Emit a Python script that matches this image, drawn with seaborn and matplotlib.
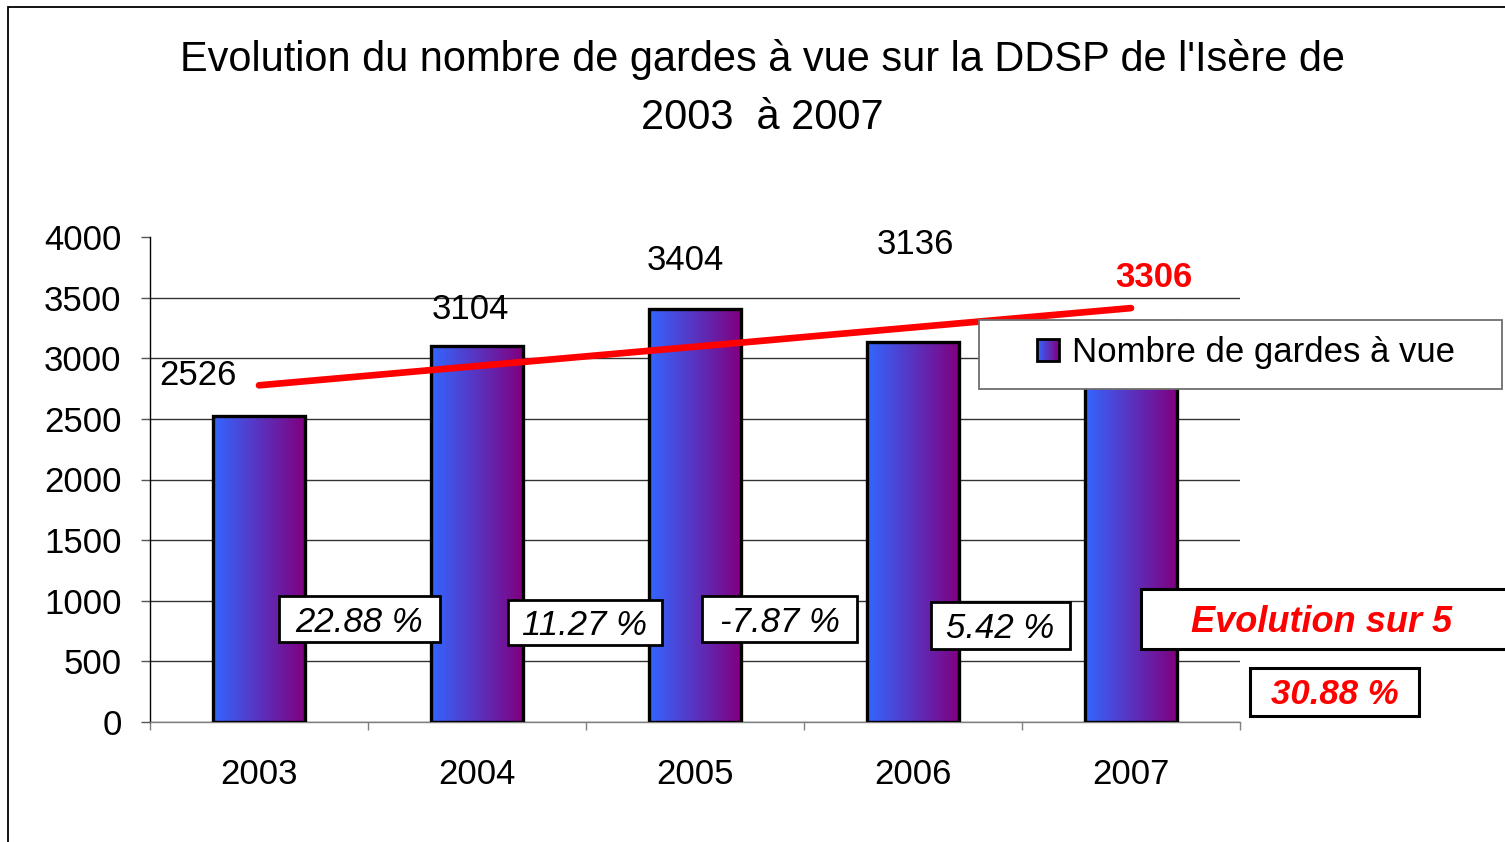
import numpy as np
import pandas as pd
import matplotlib
matplotlib.use('Agg')
import matplotlib.pyplot as plt
import seaborn as sns
from matplotlib.patches import Rectangle, Patch
from matplotlib.colors import LinearSegmentedColormap
from matplotlib.legend_handler import HandlerBase
from matplotlib.ticker import FixedLocator

# ---------------- data ----------------
years = ['2003', '2004', '2005', '2006', '2007']
counts = [2526, 3104, 3404, 3136, 3306]
yearly_change = ['22.88 %', '11.27 %', '-7.87 %', '5.42 %']
total_change = '30.88 %'
total_caption = 'Evolution sur 5'
series_name = 'Nombre de gardes à vue'
y_ticks = [0, 500, 1000, 1500, 2000, 2500, 3000, 3500, 4000]
title_lines = ["Evolution du nombre de gardes à vue sur la DDSP de l'Isère de",
               "2003  à 2007"]

# ---------------- layout (pixels) ----------------
W, H = 1505, 842
value_label_offsets = [(-61, 42), (-7, 38), (-10, 51), (2, 99), (23, 46)]
change_boxes = [(279, 596, 440, 642), (508, 600, 662, 645),
                (702, 596, 857, 642), (931, 602, 1070, 649)]
caption_box = (1141, 589, 1540, 649)
caption_text_x = 1322
total_box = (1250, 668, 1419, 716)
legend_box = (979, 320, 1502, 389)

sns.set_style('white')
plt.rcParams['font.family'] = ['Liberation Sans', 'DejaVu Sans']
plt.rcParams['text.color'] = 'black'
plt.rcParams['xtick.labelcolor'] = 'black'
plt.rcParams['ytick.labelcolor'] = 'black'
plt.rcParams['axes.labelcolor'] = 'black'

fig = plt.figure(figsize=(W / 100, H / 100), dpi=100)
fig.patch.set_facecolor('white')


def fx(px):
    return px / W


def fy(py):
    return 1 - py / H


ax = fig.add_axes([fx(150), fy(722), fx(1240) - fx(150), fy(237) - fy(722)])

df = pd.DataFrame({'Année': years, 'Gardes': counts})
sns.barplot(data=df, x='Année', y='Gardes', ax=ax, width=0.42, color='#5a3fc0',
            edgecolor='black', linewidth=2.4, zorder=3)

cmap = LinearSegmentedColormap.from_list('bar_grad', ['#3366FF', '#800080'])
grad = np.linspace(0, 1, 256).reshape(1, -1)
for p in list(ax.patches):
    p.set_facecolor('none')
    p.set_zorder(3)
    x0, y0, w, h = p.get_x(), p.get_y(), p.get_width(), p.get_height()
    ax.imshow(grad, cmap=cmap, extent=[x0, x0 + w, y0, y0 + h], aspect='auto',
              zorder=2.5, interpolation='bilinear')

# linear trend line
sns.regplot(x=np.arange(len(counts)), y=np.array(counts, dtype=float), ax=ax,
            scatter=False, ci=None, truncate=True, color='red',
            line_kws=dict(lw=4.8, solid_capstyle='round', zorder=6))

ax.set_xlim(-0.5, len(years) - 0.5)
ax.set_ylim(0, 4000)
ax.set_xlabel('')
ax.set_ylabel('')
ax.set_yticks(y_ticks)
ax.set_yticklabels([str(v) for v in y_ticks])
ax.set_xticks(range(len(years)))
ax.set_xticklabels(years)
ax.xaxis.set_minor_locator(FixedLocator(np.arange(-0.5, len(years), 1.0)))
ax.tick_params(axis='x', which='major', length=0, pad=26, labelsize=25, bottom=True,
               labelcolor='black')
ax.tick_params(axis='x', which='minor', length=6, width=1, color='#808080',
               direction='out', bottom=True)
ax.tick_params(axis='y', length=6.5, width=1, color='#555555', direction='out',
               pad=14, labelsize=25, left=True, labelcolor='black')
ax.yaxis.grid(True, color='#333333', lw=1.0)
ax.xaxis.grid(False)
ax.set_axisbelow(True)
ax.get_ygridlines()[-1].set_visible(False)
for s in ['top', 'right']:
    ax.spines[s].set_visible(False)
ax.spines['left'].set_color('black')
ax.spines['left'].set_linewidth(1.0)
ax.spines['bottom'].set_color('#808080')
ax.spines['bottom'].set_linewidth(1.0)
ax.set_facecolor('none')

# value labels
for i, (v, (dx, dy)) in enumerate(zip(counts, value_label_offsets)):
    last = i == len(counts) - 1
    ax.annotate(str(v), xy=(i, v), xytext=(dx, dy - 2), textcoords='offset pixels',
                ha='center', va='center', fontsize=25,
                color='red' if last else 'black',
                fontweight='bold' if last else 'normal',
                zorder=7, annotation_clip=False)


def draw_box(rect, lw=2.0, ec='black', z=8):
    x0, y0, x1, y1 = rect
    fig.add_artist(Rectangle((fx(x0), fy(y1)), fx(x1) - fx(x0), fy(y0) - fy(y1),
                             transform=fig.transFigure, facecolor='white',
                             edgecolor=ec, lw=lw, zorder=z))


for rect, txt in zip(change_boxes, yearly_change):
    draw_box(rect)
    x0, y0, x1, y1 = rect
    fig.text(fx((x0 + x1) / 2), fy((y0 + y1) / 2 + 3), txt, ha='center', va='center',
             fontsize=25, style='italic', color='black', zorder=9)

draw_box(caption_box, lw=2.2)
fig.text(fx(caption_text_x), fy((caption_box[1] + caption_box[3]) / 2 + 3), total_caption,
         ha='center', va='center', fontsize=26, style='italic', fontweight='bold',
         color='red', zorder=9)

draw_box(total_box, lw=2.2)
fig.text(fx((total_box[0] + total_box[2]) / 2), fy((total_box[1] + total_box[3]) / 2 + 2),
         total_change, ha='center', va='center', fontsize=25, style='italic',
         fontweight='bold', color='red', zorder=9)


# legend with gradient swatch
class GradHandler(HandlerBase):
    def create_artists(self, legend, orig_handle, xdescent, ydescent, width,
                       height, fontsize, trans):
        s = height
        x0 = -xdescent
        y0 = -ydescent
        n = 24
        arts = []
        for k in range(n):
            arts.append(Rectangle((x0 + k * s / n, y0), s / n * 1.05, s,
                                  facecolor=cmap(k / (n - 1)), edgecolor='none',
                                  transform=trans))
        arts.append(Rectangle((x0, y0), s, s, facecolor='none', edgecolor='black',
                              lw=2.0, transform=trans))
        return arts


draw_box(legend_box, lw=1.3, ec='#6e6e6e', z=9)
leg_handle = Patch(facecolor='#5a3fc0', edgecolor='black')
fig.legend(handles=[leg_handle], labels=[series_name],
           handler_map={Patch: GradHandler()},
           loc='center left', bbox_to_anchor=(fx(1037), fy(353)),
           bbox_transform=fig.transFigure, frameon=False, fontsize=25,
           labelcolor='black',
           handlelength=0.6, handleheight=0.6, handletextpad=0.4,
           borderpad=0, borderaxespad=0).set_zorder(10)

# title
fig.text(fx(763), fy(71), title_lines[0], ha='center', va='baseline', fontsize=29.9,
         color='black')
fig.text(fx(762), fy(129), title_lines[1], ha='center', va='baseline', fontsize=29.9,
         color='black')

# outer border
fig.add_artist(Rectangle((fx(8), -0.2), 1.5, fy(7) + 0.2, transform=fig.transFigure,
                         facecolor='none', edgecolor='black', lw=1.3, zorder=1))

fig.savefig('out.png', dpi=100, facecolor='white')
